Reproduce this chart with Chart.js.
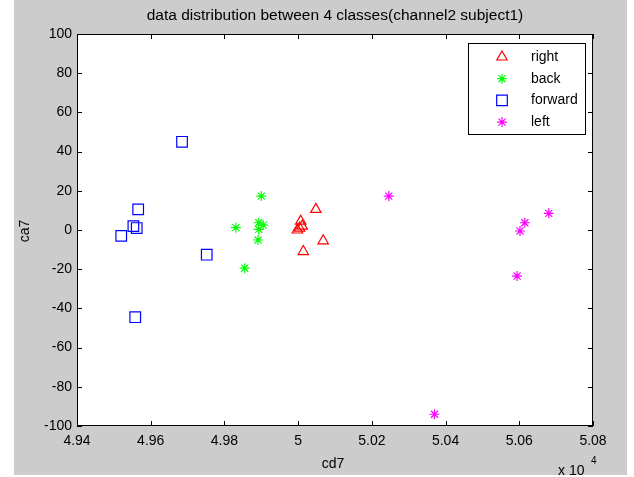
<!DOCTYPE html>
<html>
<head>
<meta charset="utf-8">
<script src="https://cdn.jsdelivr.net/npm/chart.js@4/dist/chart.umd.min.js"></script>
<style>
  html, body { margin: 0; padding: 0; background: #ffffff; }
  #wrap { width: 634px; height: 477px; }
</style>
</head>
<body>
<div id="wrap"><canvas id="scatter" width="634" height="477"></canvas></div>
<script>
// values (x in raw units, axis shows x 10^4)
const classNames = ['right', 'back', 'forward', 'left'];
const rightX = [50048, 50007, 50011, 49998, 50004, 50068, 50014];
const rightY = [10.5, 4.5, 2, 0, 1, -5.5, -11];
const backX = [49900, 49831, 49893, 49905, 49893, 49891, 49855];
const backY = [17.3, 1.2, 3.7, 2.5, 0.3, -5.1, -19.5];
const forwardX = [49685, 49566, 49553, 49562, 49520, 49752, 49558];
const forwardY = [45, 10.5, 2, 1, -3, -12.6, -44.5];
const leftX = [50246, 50680, 50615, 50602, 50594, 50370];
const leftY = [17.3, 8.5, 3.7, -0.5, -23.5, -94];
const xTicks = [49400, 49600, 49800, 50000, 50200, 50400, 50600, 50800];
const yTicks = [-100, -80, -60, -40, -20, 0, 20, 40, 60, 80, 100];

const FONT = '"Liberation Sans", Arial, sans-serif';

function toPoints(xs, ys){
    var pts = [];
    for (var i = 0; i < xs.length; i++) {
        pts.push({x: xs[i], y: ys[i]});
    }
    return pts;
}

function makeSet(label, xs, ys, color, style, radius){
    return {
        label: label,
        data: toPoints(xs, ys),
        borderColor: color,
        backgroundColor: 'rgba(0,0,0,0)',
        pointStyle: style,
        pointRadius: radius,
        pointHoverRadius: radius,
        pointBorderWidth: 1.2,
        showLine: false
    };
}

const datasets = [
    makeSet(classNames[0], rightX, rightY, '#ff0000', 'triangle', 6),
    makeSet(classNames[1], backX, backY, '#00ff00', 'star', 5),
    makeSet(classNames[2], forwardX, forwardY, '#0000ff', 'rect', 7.5),
    makeSet(classNames[3], leftX, leftY, '#ff00ff', 'star', 5)
];

// grey figure, white axes box
const backdrop = {
    id: 'backdrop',
    beforeDraw(chart){
        const ctx = chart.ctx;
        const a = chart.chartArea;
        ctx.save();
        ctx.fillStyle = '#ffffff';
        ctx.fillRect(0, 0, chart.width, chart.height);
        ctx.fillStyle = '#cccccc';
        ctx.fillRect(14, 0, 613, 475);
        ctx.fillStyle = '#ffffff';
        ctx.fillRect(a.left, a.top, a.right - a.left, a.bottom - a.top);
        ctx.restore();
    }
};

// matlab style box, inward ticks, texts and legend
const matlabAxes = {
    id: 'matlabAxes',
    afterDatasetsDraw(chart){
        const ctx = chart.ctx;
        const a = chart.chartArea;
        const sx = chart.scales.x;
        const sy = chart.scales.y;
        ctx.save();
        ctx.strokeStyle = '#000000';
        ctx.lineWidth = 1;
        ctx.beginPath();
        sx.ticks.forEach(function(t){
            var px = Math.round(sx.getPixelForValue(t.value)) + 0.5;
            ctx.moveTo(px, a.bottom); ctx.lineTo(px, a.bottom - 5);
            ctx.moveTo(px, a.top); ctx.lineTo(px, a.top + 5);
        });
        sy.ticks.forEach(function(t){
            var py = Math.round(sy.getPixelForValue(t.value)) + 0.5;
            ctx.moveTo(a.left, py); ctx.lineTo(a.left + 5, py);
            ctx.moveTo(a.right, py); ctx.lineTo(a.right - 5, py);
        });
        ctx.stroke();
        ctx.strokeRect(a.left + 0.5, a.top + 0.5, a.right - a.left - 1, a.bottom - a.top - 1);

        // texts
        ctx.fillStyle = '#000000';
        ctx.font = '15.5px ' + FONT;
        ctx.textAlign = 'center';
        ctx.textBaseline = 'alphabetic';
        ctx.fillText('data distribution between 4 classes(channel2 subject1)', 335, 20);
        ctx.font = '14px ' + FONT;
        ctx.fillText('cd7', 333, 468);
        ctx.textAlign = 'left';
        ctx.fillText('x 10', 558, 475);
        ctx.font = '10px ' + FONT;
        ctx.fillText('4', 591, 464);
        ctx.save();
        ctx.translate(29, 231);
        ctx.rotate(-Math.PI / 2);
        ctx.font = '14px ' + FONT;
        ctx.textAlign = 'center';
        ctx.fillText('ca7', 0, 0);
        ctx.restore();

        // legend box
        var lx = 468, ly = 43, lw = 118, lh = 92;
        ctx.fillStyle = '#ffffff';
        ctx.fillRect(lx, ly, lw, lh);
        ctx.strokeStyle = '#000000';
        ctx.lineWidth = 1;
        ctx.strokeRect(lx + 0.5, ly + 0.5, lw - 1, lh - 1);
        ctx.font = '14px ' + FONT;
        ctx.textBaseline = 'middle';
        ctx.textAlign = 'left';
        chart.data.datasets.forEach(function(ds, i){
            var cy = 57 + i * 21.7;
            ctx.strokeStyle = ds.borderColor;
            ctx.fillStyle = 'rgba(0,0,0,0)';
            ctx.lineWidth = ds.pointBorderWidth;
            Chart.helpers.drawPoint(ctx, {
                pointStyle: ds.pointStyle,
                radius: ds.pointRadius,
                rotation: 0,
                borderWidth: ds.pointBorderWidth
            }, 502, cy);
            ctx.fillStyle = '#000000';
            ctx.fillText(ds.label, 531, cy);
        });
        ctx.restore();
    }
};

const configuration = {
    type: 'scatter',
    data: { datasets: datasets },
    options: {
        responsive: false,
        animation: false,
        layout: { padding: { top: 34, right: 41, bottom: 0, left: 0 } },
        plugins: {
            legend: { display: false },
            title: { display: false },
            tooltip: { enabled: false }
        },
        scales: {
            x: {
                type: 'linear',
                min: xTicks[0],
                max: xTicks[xTicks.length - 1],
                afterBuildTicks(scale){
                    scale.ticks = xTicks.map(function(v){ return {value: v}; });
                },
                afterFit(scale){ scale.height = 51; },
                grid: { display: false, drawTicks: false },
                border: { display: false },
                ticks: {
                    autoSkip: false,
                    maxRotation: 0,
                    padding: 7,
                    color: '#000000',
                    font: { family: FONT, size: 14 },
                    callback: function(v){ return String(+(v / 10000).toFixed(2)); }
                }
            },
            y: {
                type: 'linear',
                min: yTicks[0],
                max: yTicks[yTicks.length - 1],
                afterBuildTicks(scale){
                    scale.ticks = yTicks.map(function(v){ return {value: v}; });
                },
                afterFit(scale){ scale.width = 77; },
                grid: { display: false, drawTicks: false },
                border: { display: false },
                ticks: {
                    autoSkip: false,
                    padding: 5,
                    color: '#000000',
                    font: { family: FONT, size: 14 }
                }
            }
        }
    },
    plugins: [backdrop, matlabAxes]
};

let chart = new Chart(document.getElementById('scatter'), configuration);
</script>
</body>
</html>
